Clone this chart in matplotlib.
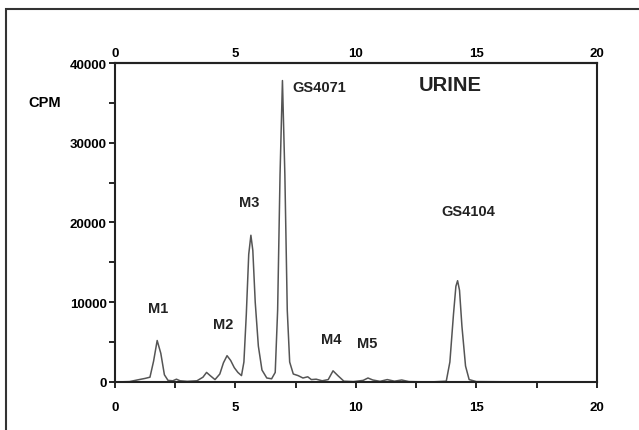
import matplotlib
matplotlib.use("Agg")
import matplotlib.pyplot as plt
from matplotlib.patches import Rectangle
from matplotlib.ticker import MultipleLocator

plt.rcParams['font.family'] = ['Liberation Sans', 'DejaVu Sans']
plt.rcParams['font.weight'] = 'bold'

# Retention time (min) and radioactivity (CPM)
time = [0.0, 0.6, 1.0, 1.25, 1.45, 1.6, 1.75, 1.9, 2.05, 2.2, 2.4, 2.55, 2.7, 3.0,
        3.4, 3.65, 3.8, 3.95, 4.15, 4.35, 4.5, 4.65, 4.8, 4.95, 5.1, 5.25, 5.35,
        5.45, 5.55, 5.64, 5.72, 5.82, 5.95, 6.1, 6.3, 6.5, 6.65, 6.75, 6.85, 6.95,
        7.05, 7.15, 7.25, 7.4, 7.6, 7.8, 8.0, 8.15, 8.35, 8.6, 8.85, 9.05, 9.25,
        9.5, 9.9, 10.3, 10.5, 10.7, 11.0, 11.3, 11.6, 11.9, 12.2, 12.6, 13.2,
        13.75, 13.9, 14.05, 14.15, 14.22, 14.3, 14.4, 14.55, 14.7, 15.0, 16.0,
        17.0, 18.0, 19.0, 20.0]
cpm = [0, 50, 300, 450, 600, 2600, 5200, 3600, 900, 200, 150, 350, 150, 80,
       150, 600, 1200, 800, 300, 1000, 2400, 3300, 2700, 1800, 1200, 800, 2500,
       8500, 16000, 18400, 16500, 10000, 4500, 1500, 500, 400, 1200, 9000, 26000, 37800,
       26000, 9000, 2500, 1000, 800, 500, 650, 300, 350, 150, 300, 1400, 800,
       100, 50, 200, 500, 250, 80, 300, 100, 250, 50, 30, 20,
       100, 2500, 8500, 12000, 12700, 11500, 7000, 2000, 300, 50, 30,
       20, 20, 20, 20]

x_ticks = [0, 5, 10, 15, 20]
y_ticks = [0, 10000, 20000, 30000, 40000]

annotations = [("GS4071", 7.35, 37000, 10.5), ("URINE", 12.6, 37300, 14.5),
               ("M3", 5.15, 22600, 10.5), ("GS4104", 13.55, 21500, 10.5),
               ("M1", 1.35, 9300, 10.5), ("M2", 4.05, 7300, 10.5),
               ("M4", 8.55, 5400, 10.5), ("M5", 10.05, 4900, 10.5)]

fig = plt.figure(figsize=(6.39, 4.31), dpi=100)
fig.patches.append(Rectangle((6/639, -0.05), 1.1, 1 - 10/431 + 0.05,
                             transform=fig.transFigure, fill=False,
                             edgecolor='#333333', linewidth=1.5))

ax = fig.add_axes([0.180, 0.1114, 0.754, 0.7401])
ax.plot(time, cpm, color='#555555', linewidth=1.1)

ax.set_xlim(0, 20)
ax.set_ylim(0, 40000)
ax.set_xticks(x_ticks)
ax.set_yticks(y_ticks)
ax.xaxis.set_minor_locator(MultipleLocator(2.5))
ax.yaxis.set_minor_locator(MultipleLocator(5000))
ax.set_xticklabels([str(v) for v in x_ticks], fontweight='bold')
ax.set_yticklabels([str(v) for v in y_ticks], fontweight='bold')

ax.tick_params(axis='x', which='both', direction='out', length=4, width=1.2,
               labelsize=9.5, pad=10, top=False)
ax.tick_params(axis='y', which='both', direction='out', length=4, width=1.2,
               labelsize=9.5, pad=2)

top = ax.secondary_xaxis('top')
top.set_xticks(x_ticks)
top.set_xticklabels([str(v) for v in x_ticks], fontweight='bold')
top.tick_params(axis='x', length=0, labelsize=9.5, pad=3)
top.spines['top'].set_linewidth(1.5)
top.spines['top'].set_color('#222222')

for s in ax.spines.values():
    s.set_linewidth(1.5)
    s.set_color('#222222')

fig.text(45/639, 1 - 103/431, "CPM", fontsize=10.5, fontweight='bold',
         ha='center', va='center')

for txt, xv, yv, fs in annotations:
    ax.text(xv, yv, txt, fontsize=fs, fontweight='bold', ha='left', va='center',
            color='#222222')

fig.savefig("out.png", dpi=100)
